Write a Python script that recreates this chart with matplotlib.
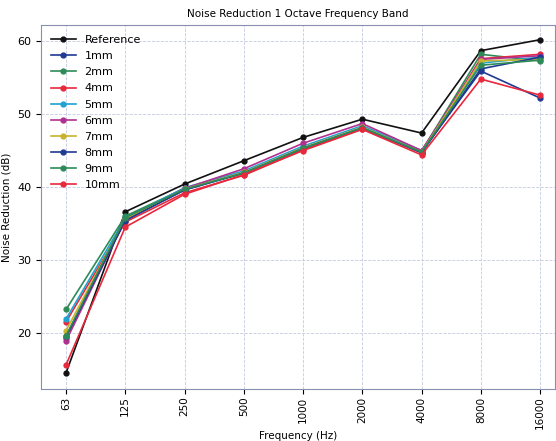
import numpy as np
import matplotlib
matplotlib.use("Agg")
import matplotlib.pyplot as plt

freqs = ["63", "125", "250", "500", "1000", "2000", "4000", "8000", "16000"]
labels = ["Reference", "1mm", "2mm", "4mm", "5mm", "6mm", "7mm", "8mm", "9mm", "10mm"]

reference = [14.5, 36.6, 40.4, 43.6, 46.8, 49.3, 47.4, 58.7, 60.2]
mm1 = [19.3, 35.5, 39.6, 42.0, 45.3, 48.1, 44.8, 55.9, 52.2]
mm2 = [23.2, 36.0, 39.8, 41.9, 45.3, 48.1, 44.9, 58.2, 57.3]
mm4 = [21.5, 35.2, 39.2, 41.6, 45.1, 48.0, 44.7, 57.6, 58.2]
mm5 = [21.9, 35.7, 39.9, 42.2, 45.6, 48.4, 45.0, 57.0, 57.8]
mm6 = [18.9, 35.5, 39.8, 42.5, 46.0, 48.7, 45.0, 57.5, 58.0]
mm7 = [20.3, 35.6, 39.7, 42.0, 45.4, 48.2, 44.8, 57.3, 57.5]
mm8 = [19.5, 35.4, 39.6, 41.9, 45.3, 48.1, 44.7, 56.2, 57.8]
mm9 = [19.6, 35.8, 39.7, 41.9, 45.3, 48.1, 44.8, 56.7, 57.4]
mm10 = [15.6, 34.5, 39.0, 41.7, 45.0, 47.9, 44.4, 54.8, 52.6]

series = [reference, mm1, mm2, mm4, mm5, mm6, mm7, mm8, mm9, mm10]
colors = ["#111111", "#1f3a93", "#2e8b57", "#e8283c", "#1fa3d1",
          "#b03090", "#c8b42c", "#1f3a93", "#2e8b57", "#e8283c"]

fig = plt.figure(figsize=(5.56, 4.41), dpi=100)
ax = fig.add_axes([0.074, 0.118, 0.924, 0.825])

x = np.arange(len(freqs))
for vals, name, c in zip(series, labels, colors):
    ax.plot(x, vals, color=c, marker="o", markersize=3.5, linewidth=1.2, label=name)

ax.set_xticks(x)
ax.set_xticklabels(freqs, rotation=90, fontsize=7.5)
ax.set_yticks([20, 30, 40, 50, 60])
ax.tick_params(axis="y", labelsize=8)
ax.tick_params(axis="x", pad=2)
ax.set_xlim(-0.42, 8.25)
ax.set_ylim(12.3, 62.2)
ax.grid(True, linestyle="--", color="#c5cae0", linewidth=0.6)
for s in ax.spines.values():
    s.set_color("#8890b0")
    s.set_linewidth(0.8)

ax.set_title("Noise Reduction 1 Octave Frequency Band", fontsize=7.5)
ax.set_xlabel("Frequency (Hz)", fontsize=7.5, labelpad=1)
ax.set_ylabel("Noise Reduction (dB)", fontsize=7.5)
ax.legend(loc="upper left", frameon=False, fontsize=8, handlelength=2.2,
          labelspacing=0.55, borderaxespad=0.5)

fig.savefig("out.png", dpi=100)
